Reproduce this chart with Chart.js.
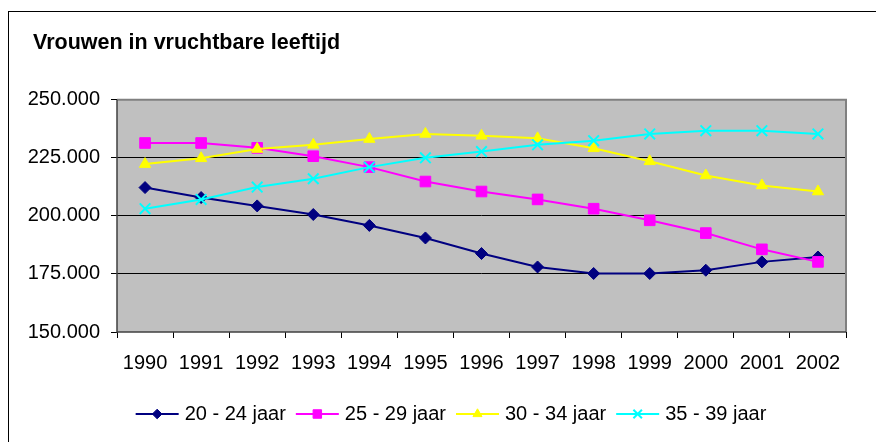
<!DOCTYPE html>
<html>
<head>
<meta charset="utf-8">
<script src="https://cdn.jsdelivr.net/npm/chart.js@4"></script>
<style>
  html, body { margin: 0; padding: 0; background: #fff; }
  #wrap { width: 876px; height: 442px; }
</style>
</head>
<body>
<div id="wrap"><canvas id="chart" width="876" height="442"></canvas></div>
<script>
// gegevens
const jaren = ['1990', '1991', '1992', '1993', '1994', '1995', '1996', '1997', '1998', '1999', '2000', '2001', '2002'];
const jaar20_24 = [212200, 207900, 204300, 200600, 195900, 190500, 183800, 178000, 175200, 175200, 176600, 180200, 182300];
const jaar25_29 = [231400, 231400, 229300, 225700, 221000, 214800, 210500, 207100, 203100, 198100, 192600, 185600, 180200];
const jaar30_34 = [222300, 224800, 228800, 230600, 233100, 235300, 234500, 233400, 229100, 223500, 217400, 213100, 210500];
const jaar35_39 = [203100, 207100, 212400, 216000, 221000, 225000, 227700, 230600, 232400, 235300, 236700, 236700, 235300];
const reeksNamen = ['20 - 24 jaar', '25 - 29 jaar', '30 - 34 jaar', '35 - 39 jaar'];
const yMin = 150000, yMax = 250000, yStap = 25000;

const fontFam = '"Liberation Sans", Arial, sans-serif';

function puntjes(v) {
    return String(v).replace(/\B(?=(\d{3})+(?!\d))/g, '.');
}

// achtergrond van het plotvlak + rand om de hele grafiek
const achtergrond = {
    id: 'achtergrond',
    afterLayout(chart) {
        // titel iets naar rechts, zoals in Excel
        chart.titleBlock.left = 33;
    },
    beforeDraw(chart) {
        const { ctx, chartArea: a } = chart;
        ctx.save();
        ctx.strokeStyle = '#000';
        ctx.lineWidth = 1;
        ctx.strokeRect(8.5, 11.5, 1000, 1000);
        ctx.fillStyle = '#c0c0c0';
        ctx.fillRect(a.left, a.top, a.right - a.left, a.bottom - a.top);
        ctx.restore();
    },
    beforeDatasetsDraw(chart) {
        const { ctx, chartArea: a } = chart;
        ctx.save();
        ctx.strokeStyle = '#808080';
        ctx.lineWidth = 2;
        ctx.beginPath();
        ctx.moveTo(a.left, a.top);
        ctx.lineTo(a.right, a.top);
        ctx.lineTo(a.right, a.bottom);
        ctx.stroke();
        ctx.strokeStyle = '#404040';
        ctx.lineWidth = 1.5;
        ctx.beginPath();
        ctx.moveTo(a.left, a.top);
        ctx.lineTo(a.left, a.bottom);
        ctx.lineTo(a.right, a.bottom);
        ctx.stroke();
        ctx.restore();
    }
};

// lijntje met markering in de legenda
const legendaLijnen = {
    id: 'legendaLijnen',
    afterDraw(chart) {
        const lg = chart.legend;
        if (!lg || !lg.legendHitBoxes) return;
        const ctx = chart.ctx;
        lg.legendItems.forEach((item, i) => {
            const hb = lg.legendHitBoxes[i];
            const ds = chart.data.datasets[item.datasetIndex];
            const y = hb.top + hb.height / 2;
            const x0 = hb.left, x1 = hb.left + 43;
            ctx.save();
            ctx.strokeStyle = ds.borderColor;
            ctx.lineWidth = 2;
            ctx.beginPath();
            ctx.moveTo(x0, y);
            ctx.lineTo(x1, y);
            ctx.stroke();
            ctx.fillStyle = ds.pointBackgroundColor;
            ctx.strokeStyle = ds.pointBorderColor;
            ctx.lineWidth = ds.pointBorderWidth;
            Chart.helpers.drawPoint(ctx, {
                pointStyle: ds.pointStyle,
                radius: ds.pointRadius * 0.8,
                rotation: 0,
                borderWidth: ds.pointBorderWidth
            }, (x0 + x1) / 2, y);
            ctx.restore();
        });
    }
};

function reeks(label, data, kleur, stijl, straal, volgorde) {
    return {
        label: label,
        data: data,
        borderColor: kleur,
        backgroundColor: kleur,
        borderWidth: 2,
        pointStyle: stijl,
        pointRadius: straal,
        pointHoverRadius: straal,
        pointBackgroundColor: kleur,
        pointBorderColor: kleur,
        pointBorderWidth: stijl === 'crossRot' ? 2 : 1,
        tension: 0,
        fill: false,
        order: volgorde
    };
}

new Chart(document.getElementById('chart'), {
    type: 'line',
    data: {
        labels: jaren,
        datasets: [
            reeks(reeksNamen[0], jaar20_24, '#000080', 'rectRot', 6, 3),
            reeks(reeksNamen[1], jaar25_29, '#ff00ff', 'rect', 7.5, 2),
            reeks(reeksNamen[2], jaar30_34, '#ffff00', 'triangle', 6.5, 1),
            reeks(reeksNamen[3], jaar35_39, '#00ffff', 'crossRot', 7.5, 0)
        ]
    },
    options: {
        responsive: false,
        animation: false,
        layout: { padding: { left: 20, right: -6, top: 0, bottom: 8 } },
        plugins: {
            title: {
                display: true,
                text: 'Vrouwen in vruchtbare leeftijd',
                align: 'start',
                color: '#000',
                font: { family: fontFam, size: 21.5, weight: 'bold' },
                padding: { top: 30, bottom: 44 }
            },
            legend: {
                position: 'bottom',
                labels: {
                    color: '#000',
                    font: { family: fontFam, size: 20 },
                    boxWidth: 39,
                    boxHeight: 12,
                    padding: 10,
                    sort: (a, b) => a.datasetIndex - b.datasetIndex,
                    generateLabels(chart) {
                        const items = Chart.defaults.plugins.legend.labels.generateLabels(chart);
                        items.forEach(it => {
                            it.fillStyle = 'rgba(0,0,0,0)';
                            it.strokeStyle = 'rgba(0,0,0,0)';
                            it.lineWidth = 0;
                        });
                        return items;
                    }
                }
            },
            tooltip: { enabled: false }
        },
        scales: {
            x: {
                offset: true,
                grid: {
                    offset: true,
                    drawOnChartArea: false,
                    drawTicks: true,
                    tickLength: 6,
                    tickColor: '#000'
                },
                border: { display: false },
                ticks: {
                    color: '#000',
                    font: { family: fontFam, size: 20 },
                    padding: 13,
                    maxRotation: 0,
                    autoSkip: false
                },
                afterFit(s) {
                    s.height = 62;
                    s.paddingRight = 30;
                    s.paddingLeft = 0;
                }
            },
            y: {
                min: yMin,
                max: yMax,
                grid: {
                    color: c => (c.tick && (c.tick.value === yMin || c.tick.value === yMax)) ? 'rgba(0,0,0,0)' : '#000',
                    lineWidth: 1,
                    tickLength: 6,
                    tickColor: '#000'
                },
                border: { display: false },
                ticks: {
                    stepSize: yStap,
                    color: '#000',
                    font: { family: fontFam, size: 20 },
                    padding: 11,
                    callback: v => puntjes(v)
                },
                afterFit(s) {
                    s.width = 97;
                }
            }
        }
    },
    plugins: [achtergrond, legendaLijnen]
});
</script>
</body>
</html>
